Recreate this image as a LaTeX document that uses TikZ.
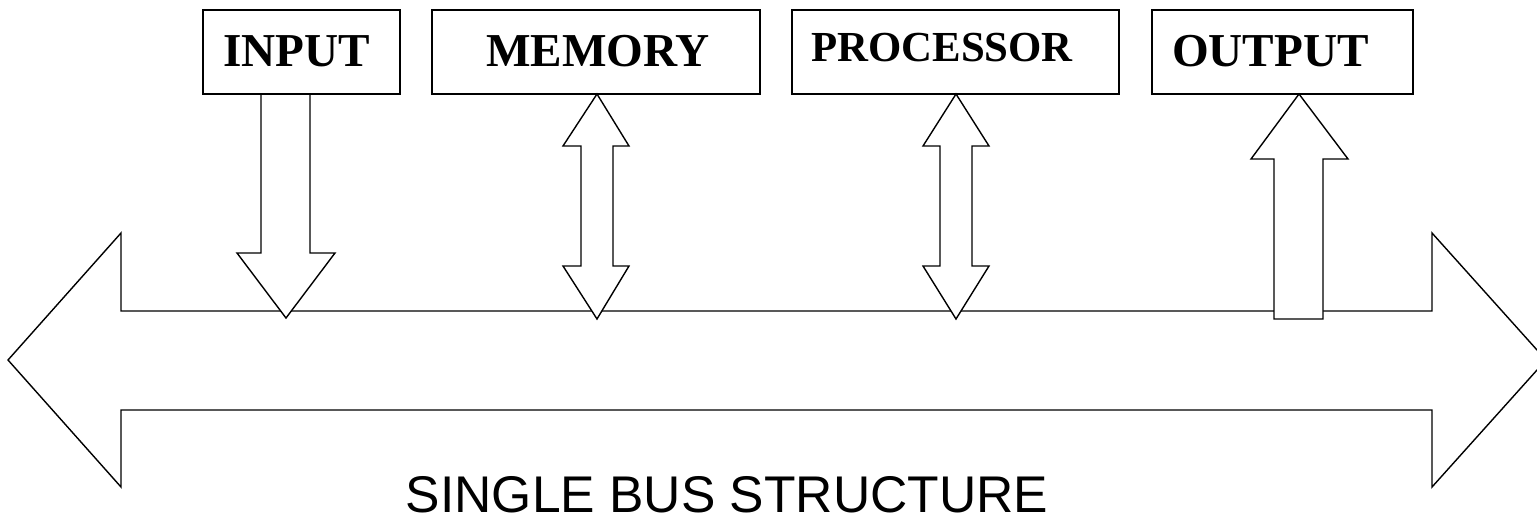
\documentclass[tikz,border=0pt]{standalone}
\usepackage{fontspec}
\setmainfont{Liberation Serif}
\setsansfont{Liberation Sans}

\begin{document}
\begin{tikzpicture}[x=0.5pt,y=-0.5pt,
    unit/.style={draw,line width=0.7pt,minimum height=42pt,inner sep=0pt},
    unitname/.style={font=\bfseries\fontsize{23.6}{26}\selectfont,inner sep=0pt,yshift=0.5pt},
    blockarrow/.style={draw,fill=white,line width=0.7pt,line join=miter}]

\useasboundingbox (0,0) rectangle (1537,520);
\clip (0,0) rectangle (1537,520);

% The bus, a wide double arrow across the page
\draw[blockarrow] (8,360) -- (121,233) -- (121,311) -- (1432,311) -- (1432,233)
    -- (1546,360) -- (1432,487) -- (1432,410) -- (121,410) -- (121,487) -- cycle;

% Input: data goes down onto the bus
\draw[blockarrow] (261,94) -- (261,253) -- (237,253) -- (286,318)
    -- (335,253) -- (310,253) -- (310,94);

% Memory and processor: both ways
\draw[blockarrow] (597,94) -- (629,146) -- (613,146) -- (613,266) -- (629,266)
    -- (597,319) -- (563,266) -- (581,266) -- (581,146) -- (563,146) -- cycle;
\draw[blockarrow] (956,94) -- (989,146) -- (972,146) -- (972,266) -- (989,266)
    -- (956,319) -- (923,266) -- (940,266) -- (940,146) -- (923,146) -- cycle;

% Output: data comes up from the bus
\draw[blockarrow] (1299,94) -- (1348,159) -- (1323,159) -- (1323,319)
    -- (1274,319) -- (1274,159) -- (1251,159) -- cycle;

% Units on the bus
\node[unit,minimum width=98.5pt,
    label={[unitname,xshift=-2.5pt]center:INPUT}] (input) at (301.5,52) {};
\node[unit,minimum width=164pt,
    label={[unitname,xshift=1pt]center:MEMORY}] (memory) at (596,52) {};
\node[unit,minimum width=163.5pt,
    label={[unitname,font=\bfseries\fontsize{21.4}{24}\selectfont,
        xshift=-6.75pt,yshift=1.5pt]center:PROCESSOR}] (processor) at (955.5,52) {};
\node[unit,minimum width=130.5pt,
    label={[unitname,xshift=-6pt]center:OUTPUT}] (output) at (1282.5,52) {};

% Caption under the bus
\node[font=\sffamily\fontsize{25.8}{28}\selectfont,anchor=base,inner sep=0pt,
    text depth=0pt] (caption) at (727,512) {SINGLE BUS STRUCTURE};

\end{tikzpicture}
\end{document}
